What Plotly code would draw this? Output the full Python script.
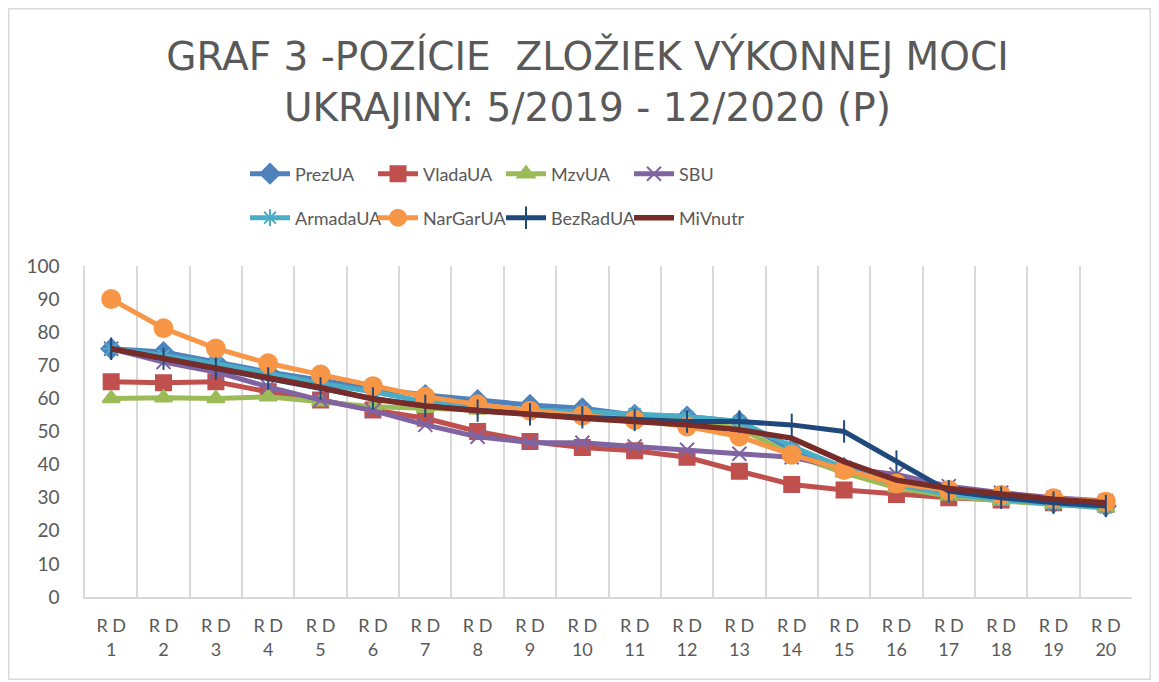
import plotly.graph_objects as go

categories = [f"R D<br>{i}" for i in range(1, 21)]

PrezUA = [75, 74, 71, 68, 65.5, 63, 61, 59.5, 58, 57, 55, 54.5, 53, 44.5, 39, 34, 32, 30, 28.5, 27.5]
VladaUA = [65, 64.7, 65, 62, 59.5, 56.5, 54, 50, 47, 45.2, 44.2, 42.2, 38, 34, 32.3, 31, 30, 29.3, 28.5, 28]
MzvUA = [60, 60.2, 60, 60.5, 59, 57.5, 57, 56.5, 56.5, 55.5, 54.5, 53.5, 51, 43, 37.5, 33, 30.5, 29, 28, 27]
SBU = [75, 71, 68, 63.5, 59.5, 56.3, 52, 48.4, 46.7, 46.6, 45.5, 44.5, 43.3, 42.2, 39, 37, 33.5, 31.5, 30, 29]
ArmadaUA = [75, 73, 70.5, 67.5, 64.5, 62, 59, 57.5, 56.5, 56, 55.3, 54.5, 53, 45.5, 39, 34, 31, 29.5, 28, 27]
NarGarUA = [90, 81.2, 75.1, 70.6, 67.2, 63.7, 60.5, 58.2, 56.3, 54.8, 53.5, 51.5, 48.5, 43, 38.4, 34.3, 32.3, 30.8, 29.8, 28.8]
BezRadUA = [75, 72, 69, 66, 63, 60, 57.7, 56.3, 55.2, 54.3, 53.5, 53, 53, 52, 50, 40.9, 32, 30, 28.5, 27.5]
MiVnutr = [75, 72, 69, 66, 63.3, 59.8, 57.7, 56.3, 55, 54, 53, 52, 50.5, 48, 40.9, 35.3, 32.8, 31, 29.5, 28.5]

series = [
    ("PrezUA", PrezUA, "#4F81BD", "diamond", 15, "legend"),
    ("VladaUA", VladaUA, "#C0504D", "square", 15, "legend"),
    ("MzvUA", MzvUA, "#9BBB59", "triangle-up", 15, "legend"),
    ("SBU", SBU, "#8064A2", "x-thin-open", 14, "legend"),
    ("ArmadaUA", ArmadaUA, "#4BACC6", "asterisk-open", 14, "legend2"),
    ("NarGarUA", NarGarUA, "#F79646", "circle", 18, "legend2"),
    ("BezRadUA", BezRadUA, "#1F497D", "line-ns-open", 16, "legend2"),
    ("MiVnutr", MiVnutr, "#772C2A", None, 0, "legend2"),
]

fig = go.Figure()
for name, vals, color, sym, size, lg in series:
    if sym is None:
        fig.add_trace(go.Scatter(x=categories, y=vals, name=name, mode="lines",
                                 line=dict(color=color, width=5.5), legend=lg))
    else:
        fig.add_trace(go.Scatter(x=categories, y=vals, name=name, mode="lines+markers",
                                 line=dict(color=color, width=5),
                                 marker=dict(symbol=sym, size=size, color=color,
                                             line=dict(color=color, width=2)),
                                 legend=lg))

font_family = "Lato, 'Open Sans', sans-serif"
W, H = 1143, 672
L, R, T, B = 77, 19, 258, 83
PW, PH = W - L - R, H - T - B

legend_common = dict(orientation="h", font=dict(family=font_family, size=18, color="#595959"),
                     bgcolor="rgba(0,0,0,0)", itemwidth=40, entrywidth=73,
                     entrywidthmode="pixels", xanchor="left", yanchor="middle",
                     tracegroupgap=0)

fig.update_layout(
    width=W, height=H,
    paper_bgcolor="white", plot_bgcolor="white",
    margin=dict(l=L, r=R, t=T, b=B, autoexpand=False),
    title=dict(text="GRAF 3 -POZÍCIE  ZLOŽIEK VÝKONNEJ MOCI<br>UKRAJINY: 5/2019 - 12/2020 (P)",
               x=579.5 / W, xanchor="center", y=1 - 62 / H, yanchor="top", yref="container",
               font=dict(family="'DejaVu Sans', sans-serif", size=39, color="#595959")),
    legend=dict(x=160 / PW, y=(PH + T - 166) / PH, **legend_common),
    legend2=dict(x=160 / PW, y=(PH + T - 210) / PH, **legend_common),
    xaxis=dict(type="category", range=[-0.5, len(categories) - 0.5], tickson="boundaries",
               showgrid=True, gridcolor="#D9D9D9",
               gridwidth=1.5, showline=True, linecolor="#D9D9D9", linewidth=1.5,
               ticks="", tickfont=dict(family=font_family, size=18, color="#595959"),
               ticklabelstandoff=12, fixedrange=True),
    yaxis=dict(range=[0, 100], dtick=10, showgrid=False, showline=True, linecolor="#D9D9D9",
               linewidth=1.5, ticks="", zeroline=False,
               tickfont=dict(family=font_family, size=19, color="#595959"), ticklabelstandoff=20),
    shapes=[dict(type="rect", xref="paper", yref="paper",
                 x0=(0.75 - L) / PW, x1=(W - 0.75 - L) / PW,
                 y0=-(B - 0.75) / PH, y1=(PH + T - 0.75) / PH,
                 line=dict(color="#D9D9D9", width=1.5), fillcolor="rgba(0,0,0,0)", layer="below")],
)

fig.write_html("out.html")
